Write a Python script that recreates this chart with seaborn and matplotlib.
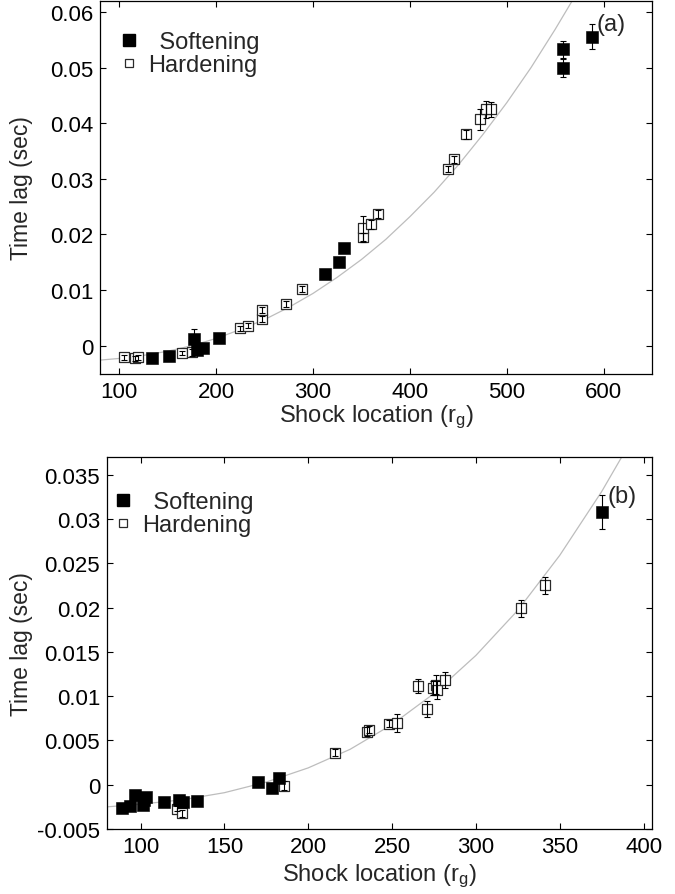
import matplotlib
matplotlib.use("Agg")
import matplotlib.pyplot as plt
from matplotlib.lines import Line2D
import seaborn as sns
import pandas as pd

# ---------------- data: panel (a) ----------------
a_soft_x = [133.3, 151.6, 177.2, 180.0, 186.0, 202.8, 312.7, 326.8, 332.0, 558.3, 558.3, 587.6]
a_soft_y = [-0.0023, -0.0019, 0.0012, -0.0008, -0.0005, 0.0013, 0.0129, 0.0150, 0.0176, 0.0500, 0.0533, 0.0556]
a_soft_e = [0.0003, 0.0003, 0.0018, 0.0004, 0.0004, 0.0003, 0.0003, 0.0003, 0.0003, 0.0016, 0.0015, 0.0022]

a_hard_x = [104.6, 115.8, 119.3, 164.2, 175.4, 224.6, 233.3, 247.4, 247.4, 272.5, 288.5,
            351.5, 351.5, 359.4, 367.4, 438.9, 445.2, 458.3, 472.4, 479.0, 483.4]
a_hard_y = [-0.0021, -0.0023, -0.0021, -0.0013, -0.0012, 0.0031, 0.0036, 0.0048, 0.0064, 0.0075, 0.0102,
            0.0195, 0.0211, 0.0218, 0.0237, 0.0318, 0.0335, 0.0380, 0.0407, 0.0425, 0.0425]
a_hard_e = [0.0004, 0.0004, 0.0004, 0.0004, 0.0006, 0.0004, 0.0004, 0.0005, 0.0005, 0.0005, 0.0005,
            0.0008, 0.0023, 0.0008, 0.0007, 0.0006, 0.0006, 0.0008, 0.0019, 0.0016, 0.0014]

a_curve_x = [80, 100, 120, 150, 175, 200, 225, 250, 275, 300, 325, 350, 375, 400, 425, 450, 475, 500, 525, 550, 575]
a_curve_y = [-0.0026, -0.0023, -0.0019, -0.0010, 0.0000, 0.0013, 0.0029, 0.0047, 0.0069, 0.0094, 0.0123,
             0.0155, 0.0191, 0.0232, 0.0276, 0.0325, 0.0379, 0.0437, 0.0500, 0.0569, 0.0642]

a_xticks = [100, 200, 300, 400, 500, 600]
a_yticks = [0, 0.01, 0.02, 0.03, 0.04, 0.05, 0.06]
a_yticklabels = ["0", "0.01", "0.02", "0.03", "0.04", "0.05", "0.06"]

# ---------------- data: panel (b) ----------------
b_soft_x = [88.9, 93.5, 96.8, 101.4, 102.0, 103.4, 113.9, 123.2, 125.2, 133.8, 169.9, 178.2, 182.7, 375.0]
b_soft_y = [-0.0026, -0.0024, -0.0012, -0.0023, -0.0017, -0.0014, -0.0019, -0.0017, -0.0019, -0.0018,
            0.0003, -0.0004, 0.0008, 0.0308]
b_soft_e = [0.0003, 0.0003, 0.0003, 0.0003, 0.0003, 0.0003, 0.0003, 0.0003, 0.0003, 0.0003,
            0.0003, 0.0003, 0.0003, 0.0019]

b_hard_x = [121.8, 124.6, 185.7, 216.0, 235.0, 236.5, 248.0, 253.0, 265.5, 270.7, 274.6, 276.0, 276.6, 281.4, 327.0, 341.0]
b_hard_y = [-0.0027, -0.0032, -0.0001, 0.0036, 0.0060, 0.0062, 0.0069, 0.0070, 0.0111, 0.0086, 0.0109,
            0.0113, 0.0107, 0.0118, 0.0199, 0.0225]
b_hard_e = [0.0003, 0.0004, 0.0005, 0.0004, 0.0005, 0.0004, 0.0004, 0.0010, 0.0008, 0.0009, 0.0008,
            0.0011, 0.0010, 0.0009, 0.0010, 0.0010]

b_curve_x = [80, 100, 125, 150, 175, 200, 225, 250, 275, 300, 325, 350, 375, 390]
b_curve_y = [-0.0025, -0.0022, -0.0017, -0.0009, 0.0003, 0.0019, 0.0040, 0.0068, 0.0103, 0.0146,
             0.0197, 0.0259, 0.0331, 0.0380]

b_xticks = [100, 150, 200, 250, 300, 350, 400]
b_yticks = [-0.005, 0, 0.005, 0.01, 0.015, 0.02, 0.025, 0.03, 0.035]
b_yticklabels = ["-0.005", "0", "0.005", "0.01", "0.015", "0.02", "0.025", "0.03", "0.035"]

legend_labels = [" \u2009Softening", "Hardening"]
x_label = "Shock location (r$\\mathregular{_g}$)"
y_label = "Time lag (sec)"

# ---------------- style ----------------
sns.set_theme(style="ticks")
plt.rcParams["font.family"] = ["Liberation Sans", "DejaVu Sans"]
plt.rcParams["mathtext.fontset"] = "custom"
plt.rcParams["mathtext.rm"] = "Liberation Sans"
plt.rcParams["axes.linewidth"] = 0.9
plt.rcParams["axes.edgecolor"] = "black"

fig = plt.figure(figsize=(6.75, 8.95), dpi=100)
ax_a = fig.add_axes([100 / 675, 1 - 375 / 895, 552 / 675, 373 / 895])
ax_b = fig.add_axes([107 / 675, 1 - 830 / 895, 545 / 675, 372 / 895])


def draw(ax, sx, sy, se, hx, hy, he, cx, cy):
    sns.lineplot(x=cx, y=cy, ax=ax, color="#bdbdbd", linewidth=0.9, zorder=1)
    sns.scatterplot(x=hx, y=hy, ax=ax, marker="s", s=60, facecolor="white",
                    edgecolor="#2a2a2a", linewidth=0.9, zorder=2)
    ax.errorbar(hx, hy, yerr=he, fmt="none", ecolor="black", elinewidth=0.8,
                capsize=2.4, capthick=0.8, zorder=3)
    ax.errorbar(sx, sy, yerr=se, fmt="none", ecolor="black", elinewidth=0.8,
                capsize=2.4, capthick=0.8, zorder=3)
    sns.scatterplot(x=sx, y=sy, ax=ax, marker="s", s=68, color="black",
                    edgecolor="black", linewidth=0.4, zorder=4)


draw(ax_a, a_soft_x, a_soft_y, a_soft_e, a_hard_x, a_hard_y, a_hard_e, a_curve_x, a_curve_y)
draw(ax_b, b_soft_x, b_soft_y, b_soft_e, b_hard_x, b_hard_y, b_hard_e, b_curve_x, b_curve_y)

ax_a.set_xlim(80, 650)
ax_a.set_ylim(-0.0051, 0.062)
ax_a.set_xticks(a_xticks)
ax_a.set_xticklabels([str(t) for t in a_xticks])
ax_a.set_yticks(a_yticks)
ax_a.set_yticklabels(a_yticklabels)

ax_b.set_xlim(80, 405)
ax_b.set_ylim(-0.005, 0.037)
ax_b.set_xticks(b_xticks)
ax_b.set_xticklabels([str(t) for t in b_xticks])
ax_b.set_yticks(b_yticks)
ax_b.set_yticklabels(b_yticklabels)

settings = [
    (ax_a, "(a)", (0.926, 0.937), (0.014, 0.9445), -0.1214, 0.5),
    (ax_b, "(b)", (0.945, 0.895), (-0.0095, 0.934), -0.1358, 3),
]
for ax, tag, pos, leg_anchor, ylab_x, xpad in settings:
    for s in ax.spines.values():
        s.set_visible(True)
        s.set_color("black")
    ax.tick_params(direction="in", length=4.5, width=0.8, top=True, right=True,
                   labelsize=16, pad=5, colors="black")
    ax.set_xlabel(x_label, fontsize=17, labelpad=xpad)
    ax.set_ylabel(y_label, fontsize=16.5)
    ax.yaxis.set_label_coords(ylab_x, 0.5)
    ax.text(pos[0], pos[1], tag, transform=ax.transAxes, fontsize=17,
            ha="center", va="center")
    handles = [
        Line2D([], [], linestyle="none", marker="s", markersize=8,
               markerfacecolor="black", markeredgecolor="black"),
        Line2D([], [], linestyle="none", marker="s", markersize=6,
               markerfacecolor="white", markeredgecolor="#2a2a2a", markeredgewidth=0.9),
    ]
    ax.legend(handles, legend_labels, loc="upper left", frameon=False, fontsize=17,
              handletextpad=0.3, labelspacing=0.05, borderaxespad=0.0,
              bbox_to_anchor=leg_anchor, handlelength=1.0)

fig.savefig("out.png", dpi=100)
